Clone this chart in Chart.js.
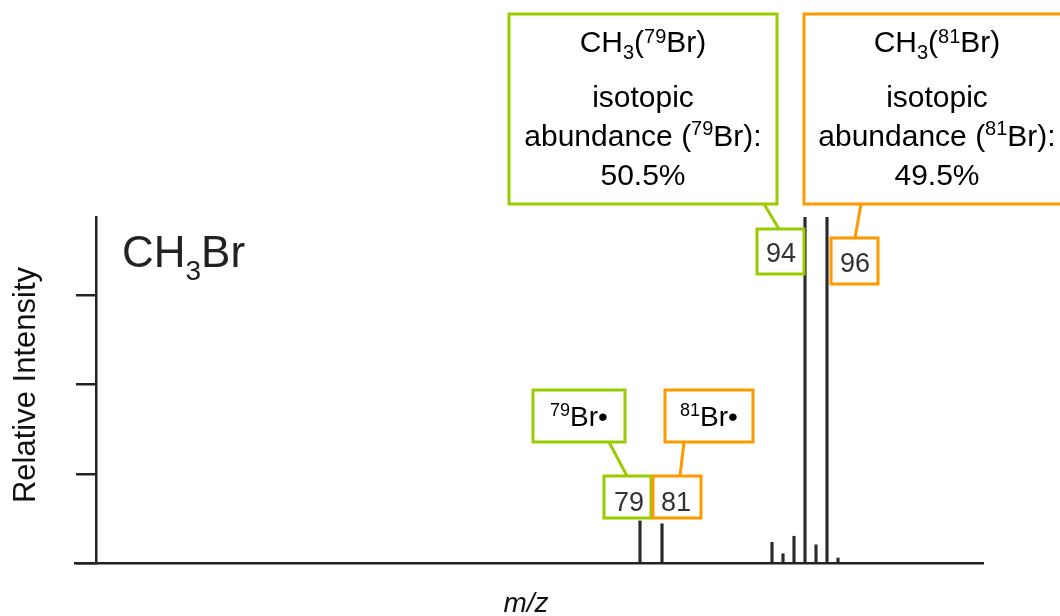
<!DOCTYPE html>
<html>
<head>
<meta charset="utf-8">
<script src="https://cdn.jsdelivr.net/npm/chart.js@4.4.1/dist/chart.umd.min.js"></script>
<style>
  html, body { margin: 0; padding: 0; background: #fff; }
  #wrap { width: 1060px; height: 616px; }
</style>
</head>
<body>
<div id="wrap"><canvas id="spectrum" width="1060" height="616"></canvas></div>
<script>
// m/z of each peak and its relative intensity (axis top = 97)
const mzValues = [79, 81, 91, 92, 93, 94, 95, 96, 97];
const intensities = [11.8, 11.0, 5.8, 2.6, 7.5, 97, 5.1, 97, 1.4];
const yTickValues = [0, 25, 50, 75];

const GREEN = '#99cc00';
const ORANGE = '#ff9900';
const FONT = '"Liberation Sans", Arial, Helvetica, sans-serif';

const canvas = document.getElementById('spectrum');

// draws a line of text made of runs (normal / sup / sub), centred on cx
function drawRuns(ctx, runs, cx, baseline, color, align) {
  let total = 0;
  for (const r of runs) {
    ctx.font = `${r.style || ''} ${r.size}px ${FONT}`;
    r.w = ctx.measureText(r.t).width;
    total += r.w;
  }
  let x = align === 'left' ? cx : cx - total / 2;
  ctx.fillStyle = color;
  ctx.textAlign = 'left';
  ctx.textBaseline = 'alphabetic';
  for (const r of runs) {
    ctx.font = `${r.style || ''} ${r.size}px ${FONT}`;
    ctx.fillText(r.t, x, baseline + (r.dy || 0));
    x += r.w;
  }
}

function box(ctx, x1, y1, x2, y2, color) {
  ctx.strokeStyle = color;
  ctx.lineWidth = 3;
  ctx.strokeRect(x1, y1, x2 - x1, y2 - y1);
}

function line(ctx, x1, y1, x2, y2, color) {
  ctx.strokeStyle = color;
  ctx.lineWidth = 3;
  ctx.beginPath();
  ctx.moveTo(x1, y1);
  ctx.lineTo(x2, y2);
  ctx.stroke();
}

const labelsPlugin = {
  id: 'spectrumLabels',
  afterDraw(chart) {
    const ctx = chart.ctx;
    const xs = chart.scales.x;
    ctx.save();

    // compound name
    drawRuns(ctx, [
      { t: 'CH', size: 44 },
      { t: '3', size: 28, dy: 13 },
      { t: 'Br', size: 44 },
    ], 122, 267, '#222', 'left');

    // axis titles
    ctx.save();
    ctx.translate(35, 385);
    ctx.rotate(-Math.PI / 2);
    drawRuns(ctx, [{ t: 'Relative Intensity', size: 31 }], 0, 0, '#111');
    ctx.restore();
    drawRuns(ctx, [{ t: 'm/z', size: 28, style: 'italic' }], 526, 612, '#111');

    // peak number boxes, placed next to their peaks
    const p79 = xs.getPixelForValue(79);
    const p81 = xs.getPixelForValue(81);
    const p94 = xs.getPixelForValue(94);
    const p96 = xs.getPixelForValue(96);

    box(ctx, p79 - 36, 476, p79 + 11, 518, GREEN);
    drawRuns(ctx, [{ t: '79', size: 27 }], p79 - 11, 511, '#333');
    box(ctx, p81 - 9, 476, p81 + 39, 518, ORANGE);
    drawRuns(ctx, [{ t: '81', size: 27 }], p81 + 14, 511, '#333');

    box(ctx, p94 - 48, 229, p94 - 1, 274, GREEN);
    drawRuns(ctx, [{ t: '94', size: 27 }], p94 - 24, 262, '#333');
    box(ctx, p96 + 4, 238, p96 + 51, 284, ORANGE);
    drawRuns(ctx, [{ t: '96', size: 27 }], p96 + 28, 272, '#333');

    // radical labels
    box(ctx, 533, 390, 625, 442, GREEN);
    drawRuns(ctx, [
      { t: '79', size: 18, dy: -10 },
      { t: 'Br\u2022', size: 28 },
    ], 579, 426, '#000');
    line(ctx, 609, 442, 627, 476, GREEN);

    box(ctx, 665, 390, 753, 442, ORANGE);
    drawRuns(ctx, [
      { t: '81', size: 18, dy: -10 },
      { t: 'Br\u2022', size: 28 },
    ], 709, 426, '#000');
    line(ctx, 684, 442, 680, 476, ORANGE);

    // molecular ion callouts
    const bigLines = (iso, pct, cx) => {
      drawRuns(ctx, [
        { t: 'CH', size: 30 },
        { t: '3', size: 20, dy: 7 },
        { t: '(', size: 30 },
        { t: iso, size: 20, dy: -9 },
        { t: 'Br)', size: 30 },
      ], cx, 52, '#000');
      drawRuns(ctx, [{ t: 'isotopic', size: 30 }], cx, 107, '#000');
      drawRuns(ctx, [
        { t: 'abundance (', size: 30 },
        { t: iso, size: 20, dy: -11 },
        { t: 'Br):', size: 30 },
      ], cx, 146, '#000');
      drawRuns(ctx, [{ t: pct, size: 30 }], cx, 185, '#000');
    };

    box(ctx, 509, 14, 777, 204, GREEN);
    bigLines('79', '50.5%', 643);
    line(ctx, 764, 204, 779, 229, GREEN);

    box(ctx, 804, 14, 1072, 204, ORANGE);
    bigLines('81', '49.5%', 937);
    line(ctx, 861, 204, 855, 238, ORANGE);

    ctx.restore();
  },
};

new Chart(canvas, {
  type: 'bar',
  data: {
    datasets: [
      {
        data: mzValues.map((mz, i) => ({ x: mz, y: intensities[i] })),
        backgroundColor: '#2a2a2a',
        barThickness: 2.5,
      },
    ],
  },
  options: {
    responsive: false,
    animation: false,
    events: [],
    layout: {
      padding: { left: 75, right: 77, top: 217, bottom: 53 },
    },
    plugins: {
      legend: { display: false },
      tooltip: { enabled: false },
    },
    scales: {
      x: {
        type: 'linear',
        offset: false,
        min: 27.64,
        max: 110.18,
        ticks: { display: false },
        grid: { display: true, drawOnChartArea: false, drawTicks: false, offset: false },
        border: { display: true, color: '#222', width: 2.5 },
      },
      y: {
        type: 'linear',
        position: { x: 29.55 },
        min: 0,
        max: 97,
        afterBuildTicks: scale => {
          scale.ticks = yTickValues.map(v => ({ value: v }));
        },
        ticks: { display: false },
        grid: {
          display: true,
          drawOnChartArea: false,
          drawTicks: true,
          tickLength: 19,
          color: '#222',
          lineWidth: 2.5,
        },
        border: { display: true, color: '#222', width: 2.5 },
      },
    },
  },
  plugins: [labelsPlugin],
});
</script>
</body>
</html>
